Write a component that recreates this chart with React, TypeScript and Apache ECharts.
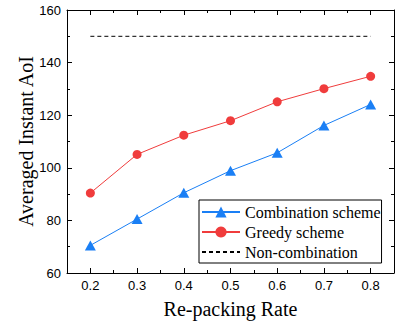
import React, { useEffect, useRef } from "react";
import * as echarts from "echarts";

const categories = ["0.2", "0.3", "0.4", "0.5", "0.6", "0.7", "0.8"];
const combination = [70.5, 80.5, 90.5, 98.9, 105.7, 116.1, 124.1];
const greedy = [90.4, 105.1, 112.4, 117.9, 125.1, 130.1, 134.8];
const nonCombination = [150, 150, 150, 150, 150, 150, 150];

const SERIF = "'Liberation Serif', 'Times New Roman', serif";
const SANS = "'Liberation Sans', Arial, sans-serif";

export default function App() {
  const ref = useRef<HTMLDivElement>(null);
  useEffect(() => {
    if (!ref.current) return;
    const chart = echarts.init(ref.current, undefined, { renderer: "svg" });
    const tickLine = { color: "#000", width: 1 };
    chart.setOption({
      animation: false,
      backgroundColor: "#fff",
      grid: { left: 67, right: 17, top: 10, bottom: 51, containLabel: false },
      legend: {
        left: 199,
        top: 200,
        orient: "vertical",
        itemWidth: 38,
        itemHeight: 14,
        itemGap: 2,
        padding: [3, 1, 2, 2],
        borderColor: "#000",
        borderWidth: 1,
        textStyle: { fontFamily: SERIF, fontSize: 16, color: "#000", lineHeight: 18 },
        data: [
          { name: "Combination scheme" },
          { name: "Greedy scheme" },
          { name: "Non-combination", itemStyle: { opacity: 0 } },
        ],
      },
      xAxis: [
        {
          type: "category",
          data: categories,
          boundaryGap: true,
          position: "bottom",
          axisLine: { show: true, lineStyle: tickLine },
          axisTick: { show: true, inside: true, alignWithLabel: true, length: 5, lineStyle: tickLine },
          axisLabel: { fontFamily: SANS, fontSize: 13, color: "#000", margin: 6 },
          name: "Re-packing Rate",
          nameLocation: "middle",
          nameGap: 26,
          nameMoveOverlap: false,
          nameTextStyle: { fontFamily: SERIF, fontSize: 20, color: "#000" },
          splitLine: { show: false },
        },
        {
          type: "category",
          data: categories,
          boundaryGap: true,
          position: "bottom",
          axisLine: { show: false },
          axisTick: { show: true, inside: true, alignWithLabel: false, length: 3, lineStyle: tickLine },
          axisLabel: { show: false },
          splitLine: { show: false },
        },
        {
          type: "category",
          data: categories,
          boundaryGap: true,
          position: "top",
          axisLine: { show: true, lineStyle: tickLine },
          axisTick: { show: true, inside: true, alignWithLabel: true, length: 5, lineStyle: tickLine },
          axisLabel: { show: false },
          splitLine: { show: false },
        },
        {
          type: "category",
          data: categories,
          boundaryGap: true,
          position: "top",
          axisLine: { show: false },
          axisTick: { show: true, inside: true, alignWithLabel: false, length: 3, lineStyle: tickLine },
          axisLabel: { show: false },
          splitLine: { show: false },
        },
      ],
      yAxis: [
        {
          type: "value",
          min: 60,
          max: 160,
          interval: 20,
          position: "left",
          axisLine: { show: true, lineStyle: tickLine },
          axisTick: { show: true, inside: true, length: 5, lineStyle: tickLine },
          minorTick: { show: true, splitNumber: 2, length: 3, lineStyle: tickLine },
          axisLabel: { fontFamily: SANS, fontSize: 13, color: "#000", margin: 6 },
          splitLine: { show: false },
          name: "Averaged Instant AoI",
          nameLocation: "middle",
          nameGap: 31,
          nameMoveOverlap: false,
          nameTextStyle: { fontFamily: SERIF, fontSize: 20, color: "#000" },
        },
        {
          type: "value",
          min: 60,
          max: 160,
          interval: 20,
          position: "right",
          axisLine: { show: true, lineStyle: tickLine },
          axisTick: { show: true, inside: true, length: 5, lineStyle: tickLine },
          minorTick: { show: true, splitNumber: 2, length: 3, lineStyle: tickLine },
          axisLabel: { show: false },
          splitLine: { show: false },
        },
      ],
      series: [
        {
          name: "Combination scheme",
          type: "line",
          data: combination,
          symbol: "triangle",
          symbolSize: [11, 10],
          color: "#1a7ff5",
          lineStyle: { color: "#1a7ff5", width: 1 },
          itemStyle: { color: "#1a7ff5" },
        },
        {
          name: "Greedy scheme",
          type: "line",
          data: greedy,
          symbol: "circle",
          symbolSize: 9,
          color: "#f03c3c",
          lineStyle: { color: "#f03c3c", width: 1 },
          itemStyle: { color: "#f03c3c" },
        },
        {
          name: "Non-combination",
          type: "line",
          data: nonCombination,
          symbol: "none",
          color: "#000",
          lineStyle: { color: "#000", width: 1, type: [4, 3] },
          itemStyle: { color: "#000" },
        },
      ],
    });
    return () => chart.dispose();
  }, []);
  return (
    <div
      ref={ref}
      style={{ position: "fixed", left: 0, top: 0, width: 411, height: 324 }}
    />
  );
}
